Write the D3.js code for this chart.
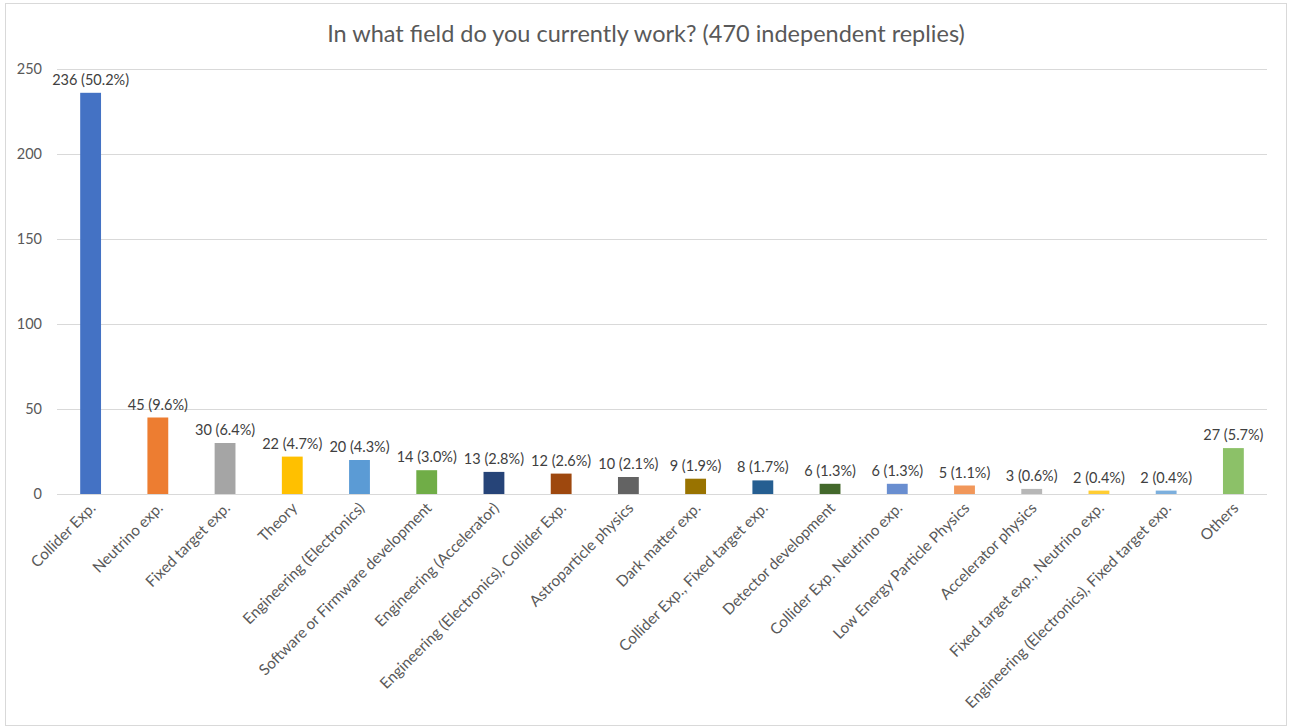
<!DOCTYPE html>
<html lang="en">
<head>
<meta charset="UTF-8" />
<script src="https://d3js.org/d3.v7.min.js"></script>
<title>Field of work</title>
<style>
  body { margin: 0; background: #fff; }
  text { font-family: Lato, "Open Sans", sans-serif; }
</style>
</head>
<body>
<script>
const width = 1290;
const height = 727;

const categories = [
  "Collider Exp.", "Neutrino exp.", "Fixed target exp.", "Theory",
  "Engineering (Electronics)", "Software or Firmware development",
  "Engineering (Accelerator)", "Engineering (Electronics), Collider Exp.",
  "Astroparticle physics", "Dark matter exp.", "Collider Exp., Fixed target exp.",
  "Detector development", "Collider Exp. Neutrino exp.", "Low Energy Particle Physics",
  "Accelerator physics", "Fixed target exp., Neutrino exp.",
  "Engineering (Electronics), Fixed target exp.", "Others"
];
const counts = [236, 45, 30, 22, 20, 14, 13, 12, 10, 9, 8, 6, 6, 5, 3, 2, 2, 27];
const percents = ["50.2%", "9.6%", "6.4%", "4.7%", "4.3%", "3.0%", "2.8%", "2.6%", "2.1%",
  "1.9%", "1.7%", "1.3%", "1.3%", "1.1%", "0.6%", "0.4%", "0.4%", "5.7%"];
const colors = ["#4472C4", "#ED7D31", "#A5A5A5", "#FFC000", "#5B9BD5", "#70AD47",
  "#264478", "#9E480E", "#636363", "#997300", "#255E91", "#43682B",
  "#698ED0", "#F1975A", "#B7B7B7", "#FFCD33", "#7CAFDD", "#8CC168"];
const yTicks = [0, 50, 100, 150, 200, 250];

const data = categories.map((c, i) => ({ cat: c, n: counts[i], pct: percents[i], color: colors[i] }));

const svg = d3.select("body").append("svg")
  .attr("width", width)
  .attr("height", height);

// chart frame
svg.append("rect")
  .attr("x", 5.5).attr("y", 3.5)
  .attr("width", 1281).attr("height", 722)
  .attr("fill", "#fff")
  .attr("stroke", "#d9d9d9");

const plotLeft = 57, plotRight = 1267, plotTop = 69, plotBottom = 494;

const x = d3.scaleBand().domain(categories).range([plotLeft, plotRight]).paddingInner(0.69).paddingOuter(0.345);
const y = d3.scaleLinear().domain([0, 250]).range([plotBottom, plotTop]);

// title
svg.append("text")
  .attr("x", 646).attr("y", 42)
  .attr("text-anchor", "middle")
  .attr("fill", "#595959")
  .style("font-size", "23.5px")
  .text("In what field do you currently work? (470 independent replies)");

// gridlines
svg.append("g")
  .attr("transform", `translate(${plotLeft},0)`)
  .call(d3.axisLeft(y).tickValues(yTicks).tickSize(-(plotRight - plotLeft)).tickFormat(""))
  .call(g => g.select(".domain").remove())
  .call(g => g.selectAll("line").attr("stroke", "#d9d9d9"));

// y tick labels
svg.append("g")
  .attr("transform", `translate(${plotLeft},0)`)
  .call(d3.axisLeft(y).tickValues(yTicks).tickSize(0).tickPadding(15))
  .call(g => g.select(".domain").remove())
  .call(g => g.selectAll("text").attr("fill", "#595959").style("font-size", "14.5px").style("font-family", "Lato, sans-serif"));

// bars
svg.selectAll(".bar")
  .data(data)
  .enter()
  .append("rect")
  .attr("class", "bar")
  .attr("x", d => x(d.cat))
  .attr("width", x.bandwidth())
  .attr("y", d => y(d.n))
  .attr("height", d => y(0) - y(d.n))
  .attr("fill", d => d.color);

// baseline
svg.append("line")
  .attr("x1", plotLeft).attr("x2", plotRight)
  .attr("y1", y(0) + 0.5).attr("y2", y(0) + 0.5)
  .attr("stroke", "#d9d9d9");

// data labels
svg.selectAll(".lbl")
  .data(data)
  .enter()
  .append("text")
  .attr("class", "lbl")
  .attr("x", d => x(d.cat) + x.bandwidth() / 2)
  .attr("y", d => y(d.n) - 8)
  .attr("text-anchor", "middle")
  .attr("fill", "#404040")
  .style("font-size", "14.5px")
  .text(d => `${d.n} (${d.pct})`);

// category labels
svg.selectAll(".cat")
  .data(data)
  .enter()
  .append("text")
  .attr("class", "cat")
  .attr("text-anchor", "end")
  .attr("fill", "#595959")
  .style("font-size", "15.3px")
  .attr("transform", d => `translate(${x(d.cat) + x.bandwidth() / 2 + 6},${y(0) + 15}) rotate(-45)`)
  .text(d => d.cat);
</script>
</body>
</html>
